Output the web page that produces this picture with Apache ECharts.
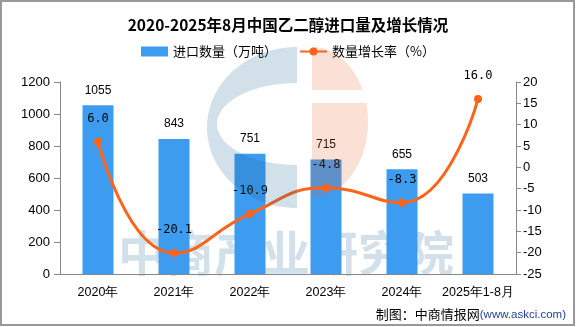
<!DOCTYPE html>
<html><head><meta charset="utf-8">
<script src="https://cdn.jsdelivr.net/npm/echarts@6/dist/echarts.min.js"></script>
<style>html,body{margin:0;padding:0;background:#fff}#c{width:576px;height:327px}</style>
</head><body><div id="c"></div>
<script>
var categories = ['2020年','2021年','2022年','2023年','2024年','2025年1-8月'];
var importVolume = [1055, 843, 751, 715, 655, 503];
var growthRate = [6.0, -20.1, -10.9, -4.8, -8.3, 16.0];
var leftTicks = {min: 0, max: 1200, interval: 200};
var rightTicks = {min: -25, max: 20, interval: 5};

function arcPts(cx, cy, rx, ry, a0, a1, n) {
  var pts = [];
  for (var i = 0; i <= n; i++) {
    var a = (a0 + (a1 - a0) * i / n) * Math.PI / 180;
    pts.push([cx + rx * Math.cos(a), cy + ry * Math.sin(a)]);
  }
  return pts;
}
// watermark logo shapes (decoration)
var logoC = arcPts(297, 127.5, 90, 80.5, -90, -270, 60).concat(arcPts(297, 124, 80, 41, 90, 270, 60));
var logoHalf = arcPts(312, 122, 56, 75, -90, 90, 60);

var chart = echarts.init(document.getElementById('c'), null, {renderer: 'canvas'});
var cjk = '"Noto Sans CJK SC", "Noto Sans", sans-serif';
var lat = '"Liberation Sans", Arial, sans-serif';
var wm = 'rgba(30,100,150,0.2)';
var option = {
  animation: false,
  backgroundColor: '#fff',
  title: {
    text: '2020-2025年8月中国乙二醇进口量及增长情况',
    left: 'center', top: 12,
    textStyle: {fontFamily: cjk, fontSize: 15.5, fontWeight: 'bold', color: '#000'}
  },
  legend: {
    top: 40, left: 'center', itemGap: 22, itemWidth: 27, itemHeight: 10,
    textStyle: {fontFamily: cjk, fontSize: 13, color: '#000'},
    data: [{name: '进口数量（万吨）', icon: 'rect'}, {name: '数量增长率（%）'}]
  },
  grid: {left: 60, right: 60, top: 82, bottom: 53},
  xAxis: {
    type: 'category', data: categories,
    axisLine: {lineStyle: {color: '#888'}},
    axisTick: {length: 5, lineStyle: {color: '#888'}},
    axisLabel: {interval: 0, fontFamily: lat, fontSize: 12.5, color: '#000', margin: 12}
  },
  yAxis: [{
    type: 'value', min: leftTicks.min, max: leftTicks.max, interval: leftTicks.interval,
    splitLine: {show: false},
    axisLine: {show: true, lineStyle: {color: '#888'}},
    axisTick: {show: true, length: 6, lineStyle: {color: '#888'}},
    axisLabel: {fontFamily: lat, fontSize: 13, color: '#000', margin: 10, formatter: function (v) { return String(v); }}
  }, {
    type: 'value', min: rightTicks.min, max: rightTicks.max, interval: rightTicks.interval,
    splitLine: {show: false},
    axisLine: {show: true, lineStyle: {color: '#888'}},
    axisTick: {show: true, length: 5, lineStyle: {color: '#888'}},
    axisLabel: {fontFamily: lat, fontSize: 13, color: '#000', margin: 7, formatter: function (v) { return String(v); }}
  }],
  series: [{
    name: '进口数量（万吨）', type: 'bar', data: importVolume, barWidth: 31,
    itemStyle: {color: '#3E9CF0'},
    label: {show: true, position: 'top', distance: 9, fontFamily: lat, fontSize: 12, color: '#000'},
    z: 2
  }, {
    name: '数量增长率（%）', type: 'line', yAxisIndex: 1, data: growthRate, smooth: true,
    symbol: 'circle', symbolSize: 8,
    lineStyle: {color: '#FF6418', width: 3},
    itemStyle: {color: '#FF6418'},
    label: {show: true, position: 'top', distance: 13, fontFamily: '"DejaVu Sans Mono", monospace', fontSize: 12, color: '#000',
      formatter: function (p) { return p.value.toFixed(1); }},
    z: 3
  }],
  graphic: [
    {type: 'text', z: 0, x: 118, y: 229, style: {text: '中商产业研究院', fontFamily: '"Noto Sans CJK SC"', fontSize: 48, fontWeight: 'bold', fill: wm}},
    {type: 'polygon', z: 100, shape: {points: logoC}, style: {fill: wm}},
    {type: 'polygon', z: 100, shape: {points: logoHalf}, style: {fill: 'rgba(235,100,50,0.2)'}},
    {type: 'rect', z: 101, shape: {x: 311, y: 90, width: 60, height: 13}, style: {fill: '#fff'}},
    {type: 'text', z: 5, right: 10, top: 308, style: {
      text: '{a|制图：中商情报网}{b|(www.askci.com)}',
      rich: {a: {fontFamily: '"Noto Sans CJK SC"', fontSize: 13, fill: '#000'}, b: {fontFamily: '"Liberation Sans"', fontSize: 11.5, fill: '#1F3F9F'}}
    }},
    {type: 'rect', z: 200, shape: {x: 1, y: 1, width: 573, height: 324}, style: {fill: 'none', stroke: '#999', lineWidth: 2}}
  ]
};
chart.setOption(option);
</script></body></html>
